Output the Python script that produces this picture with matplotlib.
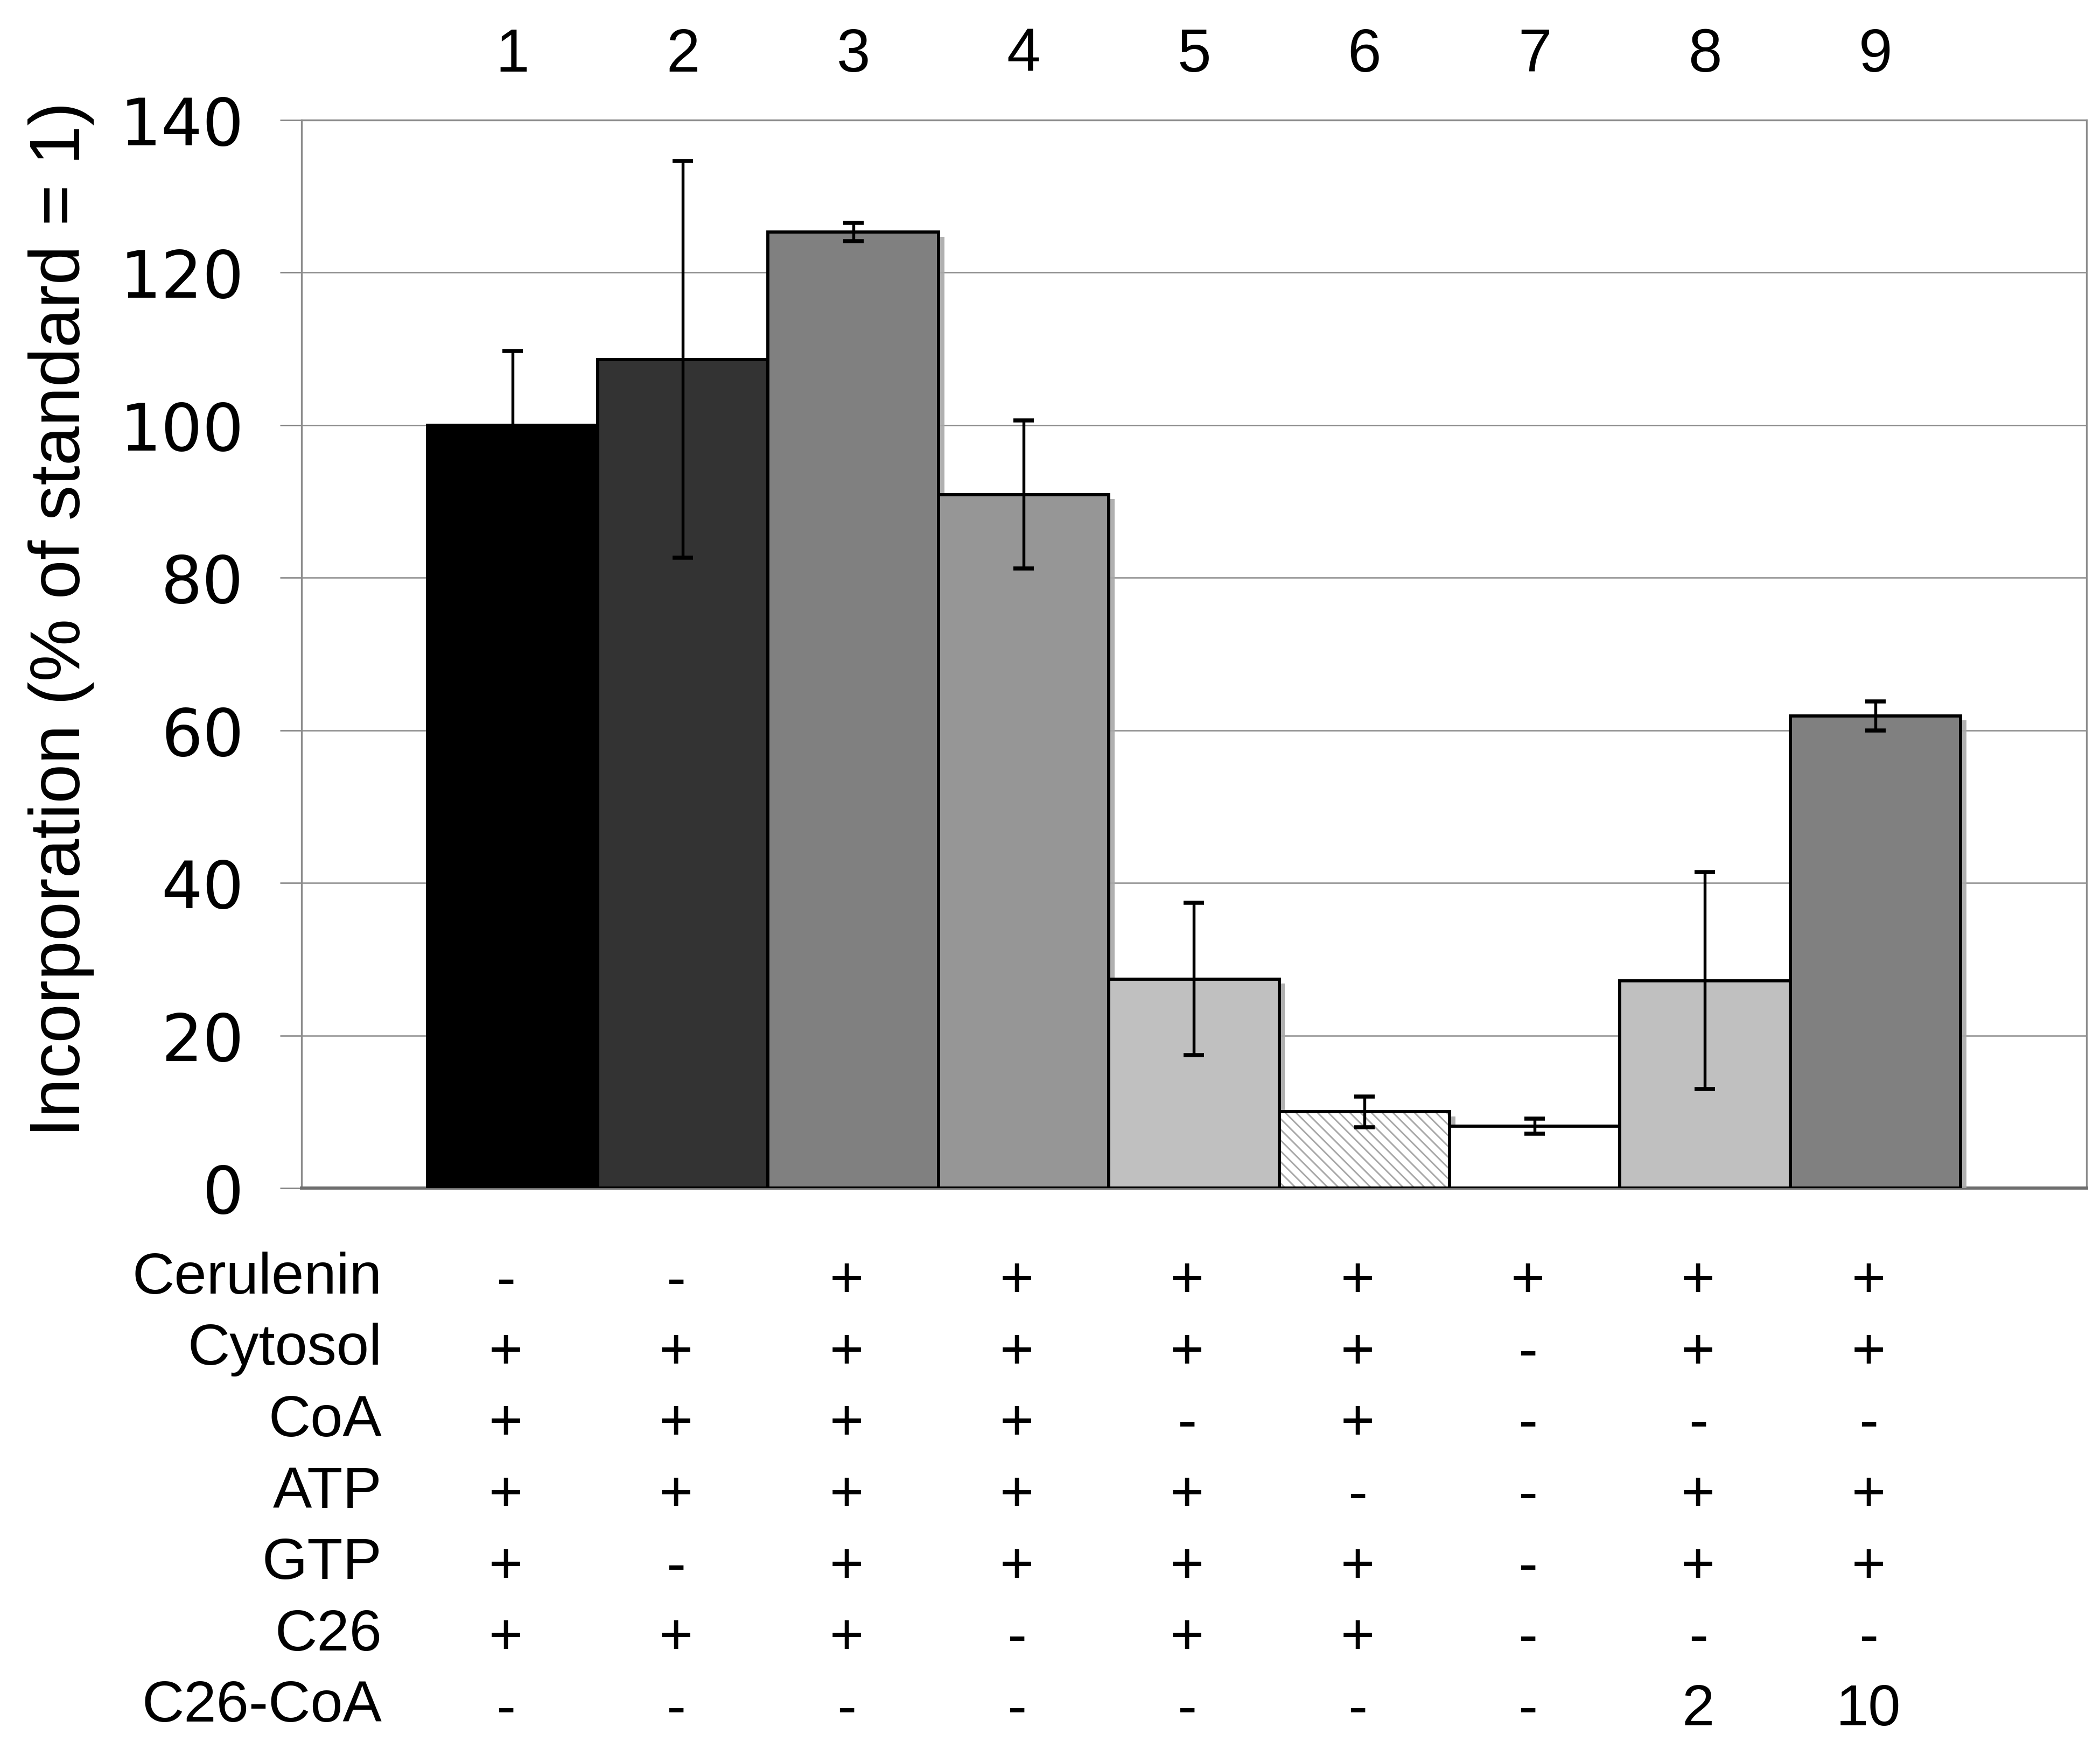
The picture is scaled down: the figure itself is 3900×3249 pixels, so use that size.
import matplotlib
matplotlib.use('Agg')
import matplotlib.pyplot as plt
import matplotlib.transforms as mtransforms
import matplotlib.patheffects as pe
import numpy as np

plt.rcParams['hatch.linewidth'] = 0.7

# data
lanes = ['1', '2', '3', '4', '5', '6', '7', '8', '9']
values = [100.0, 108.6, 125.3, 90.9, 27.4, 10.0, 8.1, 27.2, 61.9]
errors = [9.7, 26.0, 1.2, 9.7, 10.0, 2.0, 1.0, 14.2, 1.9]

row_names = ['Cerulenin', 'Cytosol', 'CoA', 'ATP', 'GTP', 'C26', 'C26-CoA']
cerulenin = ['-', '-', '+', '+', '+', '+', '+', '+', '+']
cytosol = ['+', '+', '+', '+', '+', '+', '-', '+', '+']
coa = ['+', '+', '+', '+', '-', '+', '-', '-', '-']
atp = ['+', '+', '+', '+', '+', '-', '-', '+', '+']
gtp = ['+', '-', '+', '+', '+', '+', '-', '+', '+']
c26 = ['+', '+', '+', '-', '+', '+', '-', '-', '-']
c26_coa = ['-', '-', '-', '-', '-', '-', '-', '2', '10']
rows = [cerulenin, cytosol, coa, atp, gtp, c26, c26_coa]

bar_colors = ['#000000', '#333333', '#808080', '#969696', '#c0c0c0',
              '#ffffff', '#ffffff', '#c0c0c0', '#808080']
bar_hatch = [None, None, None, None, None, '\\\\\\\\\\', None, None, None]

label_font = 'Liberation Sans'

fig = plt.figure(figsize=(13, 10.8333), dpi=300)
ax = fig.add_axes([0.1435, 0.3206, 0.8501, 0.6105])

x = np.arange(1, len(lanes) + 1)
shadow = [pe.SimplePatchShadow(offset=(2.6, -2.0), shadow_rgbFace='#a8a8a8', alpha=0.9),
          pe.Normal()]

bars = ax.bar(x, values, width=1.0, color=bar_colors, edgecolor='black',
              linewidth=1.4, zorder=3)
for b, h in zip(bars, bar_hatch):
    b.set_path_effects(shadow)
    if h is not None:
        # hatch in light gray, outline drawn by the main bar on top
        ax.bar(b.get_x() + b.get_width() / 2, b.get_height(), width=b.get_width(),
               color='white', edgecolor='#a8a8a8', hatch=h, linewidth=0, zorder=3.5)
        ax.bar(b.get_x() + b.get_width() / 2, b.get_height(), width=b.get_width(),
               fill=False, edgecolor='black', linewidth=1.4, zorder=3.6)

ax.errorbar(x, values, yerr=errors, fmt='none', ecolor='black', elinewidth=1.3,
            capsize=4.5, capthick=1.8, zorder=5)

ax.set_xlim(-0.24, 10.24)
ax.set_ylim(0, 140)
ax.set_yticks(np.arange(0, 141, 20))
ax.tick_params(axis='y', direction='out', length=9.6, width=0.6, color='#808080',
               labelsize=29, pad=16)
ax.tick_params(axis='x', bottom=False, labelbottom=False)
ax.grid(axis='y', color='#8c8c8c', linewidth=0.6, zorder=0)
ax.set_axisbelow(True)
for side in ['left', 'right', 'top']:
    ax.spines[side].set_color('#8c8c8c')
    ax.spines[side].set_linewidth(0.8)
ax.spines['bottom'].set_color('#6e6e6e')
ax.spines['bottom'].set_linewidth(1.4)

fig.text(0.029, 0.646, 'Incorporation (% of standard = 1)', rotation=90,
         ha='center', va='center', fontsize=31.5, family=label_font)

trans = mtransforms.blended_transform_factory(ax.transData, fig.transFigure)

# lane numbers above the plot
for xi, lab in zip(x, lanes):
    ax.text(xi, 0.968, lab, transform=trans, ha='center', va='center',
            fontsize=27, family=label_font)

# condition table under the plot
row_y0 = 0.2693
row_step = 0.0408
col_shift = -0.04
for i, (name, row) in enumerate(zip(row_names, rows)):
    y = row_y0 - i * row_step
    fig.text(0.1818, y, name, ha='right', va='center', fontsize=26, family=label_font)
    for xi, s in zip(x, row):
        ax.text(xi + col_shift, y - 0.002, s, transform=trans, ha='center', va='center',
                fontsize=26, family=label_font)

fig.savefig('out.png', dpi=300, facecolor='white')
